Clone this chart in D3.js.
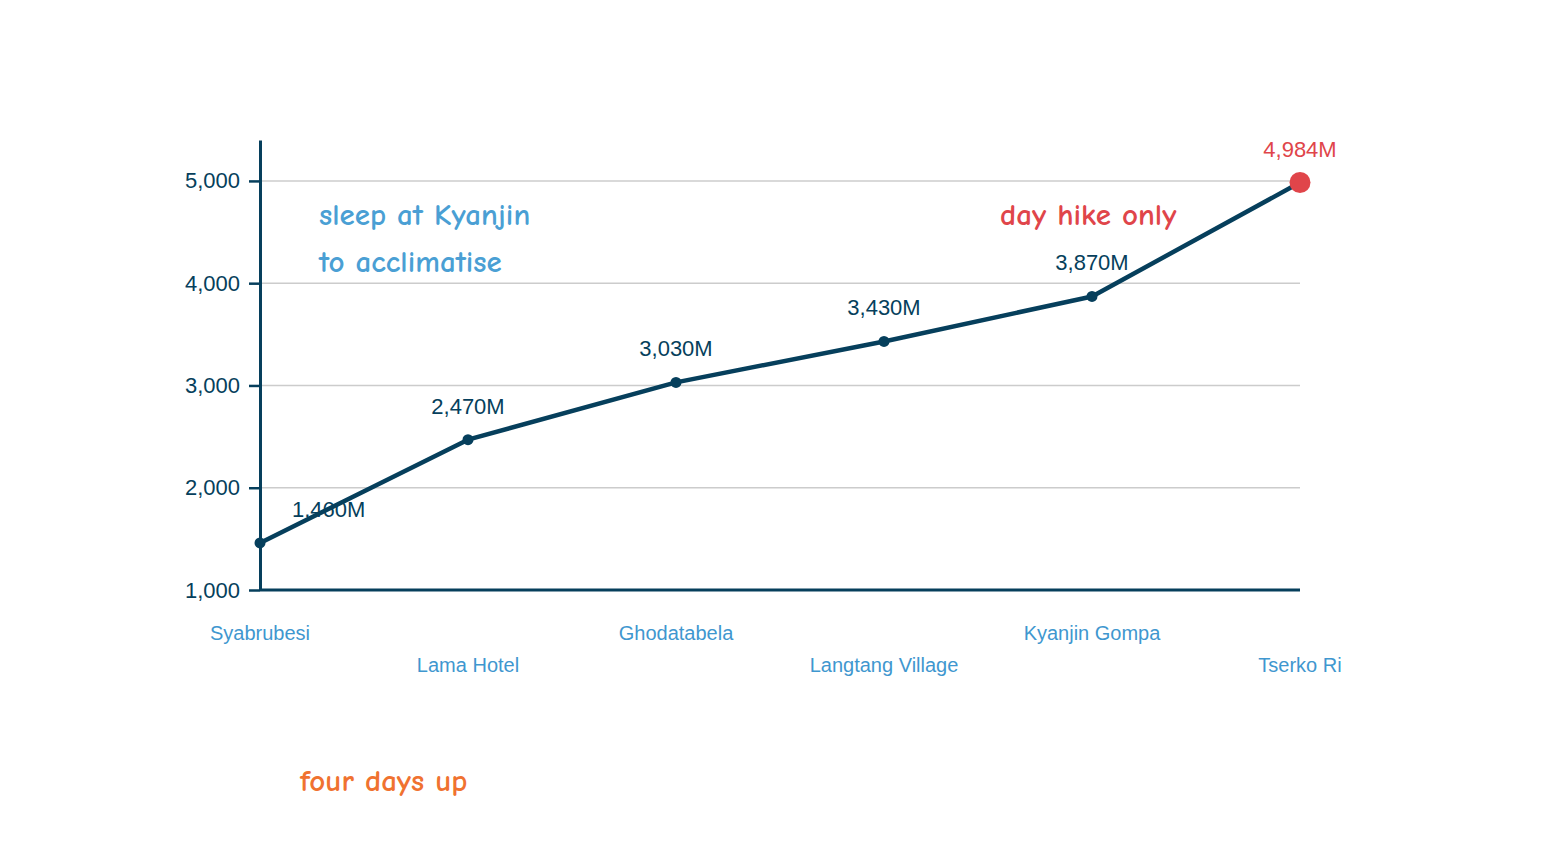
<!DOCTYPE html>
<html><head><meta charset="utf-8">
<script src="https://cdn.jsdelivr.net/npm/d3@7/dist/d3.min.js"></script>
<style>
html,body{margin:0;padding:0;background:#fff;}
svg{display:block;font-family:"Liberation Sans",Arial,sans-serif;}
</style></head>
<body><svg id="c" width="1560" height="860"></svg>
<script>
const places = ["Syabrubesi","Lama Hotel","Ghodatabela","Langtang Village","Kyanjin Gompa","Tserko Ri"];
const altitudes = [1460,2470,3030,3430,3870,4984];
const yTicks = [1000,2000,3000,4000,5000];
const notes = [
  {lines:["sleep at Kyanjin","to acclimatise"], color:"#4a9fd4", at:"leftTop"},
  {lines:["day hike only"], color:"#e0454a", at:"rightTop"},
  {lines:["four days up"], color:"#f07230", at:"bottom"}
];

const navy = "#063f5c";
const svg = d3.select("#c");
const x = d3.scalePoint().domain(places).range([260,1300]);
const y = d3.scaleLinear().domain([1000,5400]).range([590,140]);

// gridlines
svg.append("g").selectAll("line").data(yTicks.filter(t=>t>1000)).join("line")
  .attr("x1",260).attr("x2",1300).attr("y1",d=>y(d)).attr("y2",d=>y(d))
  .attr("stroke","#cccccc").attr("stroke-width",1.5);

// y axis
const ya = svg.append("g").attr("transform","translate(260,0)")
  .call(d3.axisLeft(y).tickValues(yTicks).tickFormat(d3.format(",")).tickSize(11).tickSizeOuter(0).tickPadding(9));
ya.select(".domain").attr("stroke",navy).attr("stroke-width",3);
ya.selectAll(".tick line").attr("stroke",navy).attr("stroke-width",2.5);
ya.selectAll(".tick text").attr("fill",navy).style("font-size","22px").style("font-family","'Liberation Sans',Arial,sans-serif");

// x axis line
svg.append("line").attr("x1",260).attr("x2",1300).attr("y1",y(1000)).attr("y2",y(1000))
  .attr("stroke",navy).attr("stroke-width",3);

// x labels
svg.append("g").selectAll("text").data(places).join("text")
  .attr("x",d=>x(d)).attr("y",(d,i)=>i%2===0?640:672)
  .attr("text-anchor","middle").attr("fill","#3f97cf").style("font-size","20px").text(d=>d);

// line
const data = places.map((p,i)=>({p,v:altitudes[i]}));
svg.append("path").datum(data)
  .attr("d",d3.line().x(d=>x(d.p)).y(d=>y(d.v)))
  .attr("fill","none").attr("stroke",navy).attr("stroke-width",4.5).attr("stroke-linejoin","round");

// points
const last = data.length-1;
svg.append("g").selectAll("circle").data(data).join("circle")
  .attr("cx",d=>x(d.p)).attr("cy",d=>y(d.v))
  .attr("r",(d,i)=>i===last?10.5:5.5)
  .attr("fill",(d,i)=>i===last?"#e0454a":navy);

// value labels
svg.append("g").selectAll("text").data(data).join("text")
  .attr("x",(d,i)=>i===0?x(d.p)+32:x(d.p))
  .attr("y",d=>y(d.v)-26)
  .attr("text-anchor",(d,i)=>i===0?"start":"middle")
  .attr("fill",(d,i)=>i===last?"#e0454a":navy)
  .style("font-size","22px")
  .text(d=>d3.format(",")(d.v)+"M");

// notes
const hand = "'Comic Neue','Segoe Print','Noto Sans',cursive";
const pos = {leftTop:[319,225,47], rightTop:[1000,225,47], bottom:[300,791,47]};
notes.forEach(n=>{
  const [px,py,dy]=pos[n.at];
  svg.append("g").selectAll("text").data(n.lines).join("text")
    .attr("x",px).attr("y",(d,i)=>py+i*dy)
    .attr("fill",n.color).style("font-family",hand).style("font-weight","bold")
    .style("font-size","31px").text(d=>d);
});
</script></body></html>
